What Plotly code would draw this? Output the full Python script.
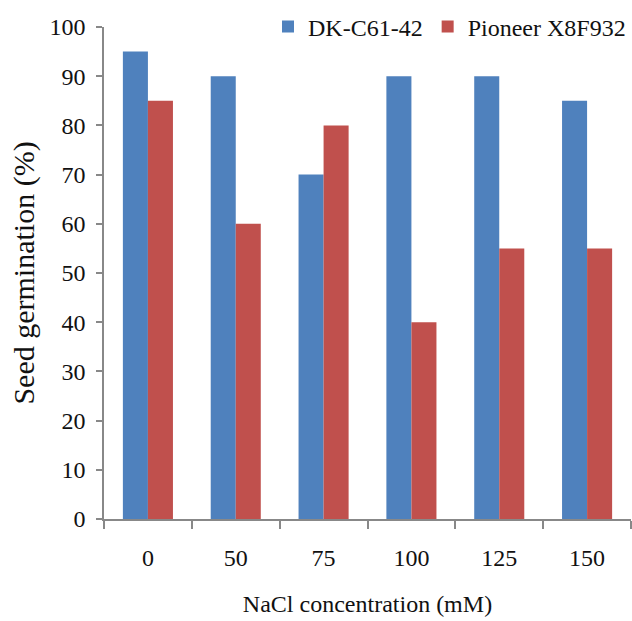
import plotly.graph_objects as go

categories = ["0", "50", "75", "100", "125", "150"]
dk_values = [95, 90, 70, 90, 90, 85]
pioneer_values = [85, 60, 80, 40, 55, 55]
y_ticks = [0, 10, 20, 30, 40, 50, 60, 70, 80, 90, 100]

font = dict(family="Liberation Serif, Times New Roman, serif", color="#111", size=24)

fig = go.Figure()
fig.add_trace(go.Bar(x=categories, y=dk_values, name="DK-C61-42", marker_color="#4F81BD",
                     marker_line_width=0))
fig.add_trace(go.Bar(x=categories, y=pioneer_values, name="Pioneer X8F932", marker_color="#C0504D",
                     marker_line_width=0))

fig.update_layout(
    width=632, height=621,
    margin=dict(l=104, r=1, t=27, b=102, autoexpand=False),
    paper_bgcolor="white", plot_bgcolor="white",
    font=font,
    barmode="group", bargap=0.43, bargroupgap=0,
    legend=dict(orientation="h", x=1.0, xanchor="right", y=1.0, yanchor="middle",
                bgcolor="rgba(0,0,0,0)", font=dict(size=24), itemwidth=30, traceorder="normal"),
    xaxis=dict(title=dict(text="NaCl concentration (mM)", standoff=26, font=dict(size=24)),
               showline=True, linecolor="#888", linewidth=1.5,
               ticks="outside", tickson="boundaries", ticklen=8, tickcolor="#888", tickwidth=1.5,
               ticklabelstandoff=16,
               showgrid=False, tickfont=dict(size=24)),
    yaxis=dict(title=dict(text="Seed germination (%)", standoff=6, font=dict(size=30)),
               range=[0, 100], tickvals=y_ticks,
               showline=True, linecolor="#888", linewidth=1.5,
               ticks="outside", ticklen=6, tickcolor="#888", tickwidth=1.5,
               ticklabelstandoff=6,
               showgrid=False, zeroline=False, tickfont=dict(size=24)),
)
fig.write_html("out.html")
